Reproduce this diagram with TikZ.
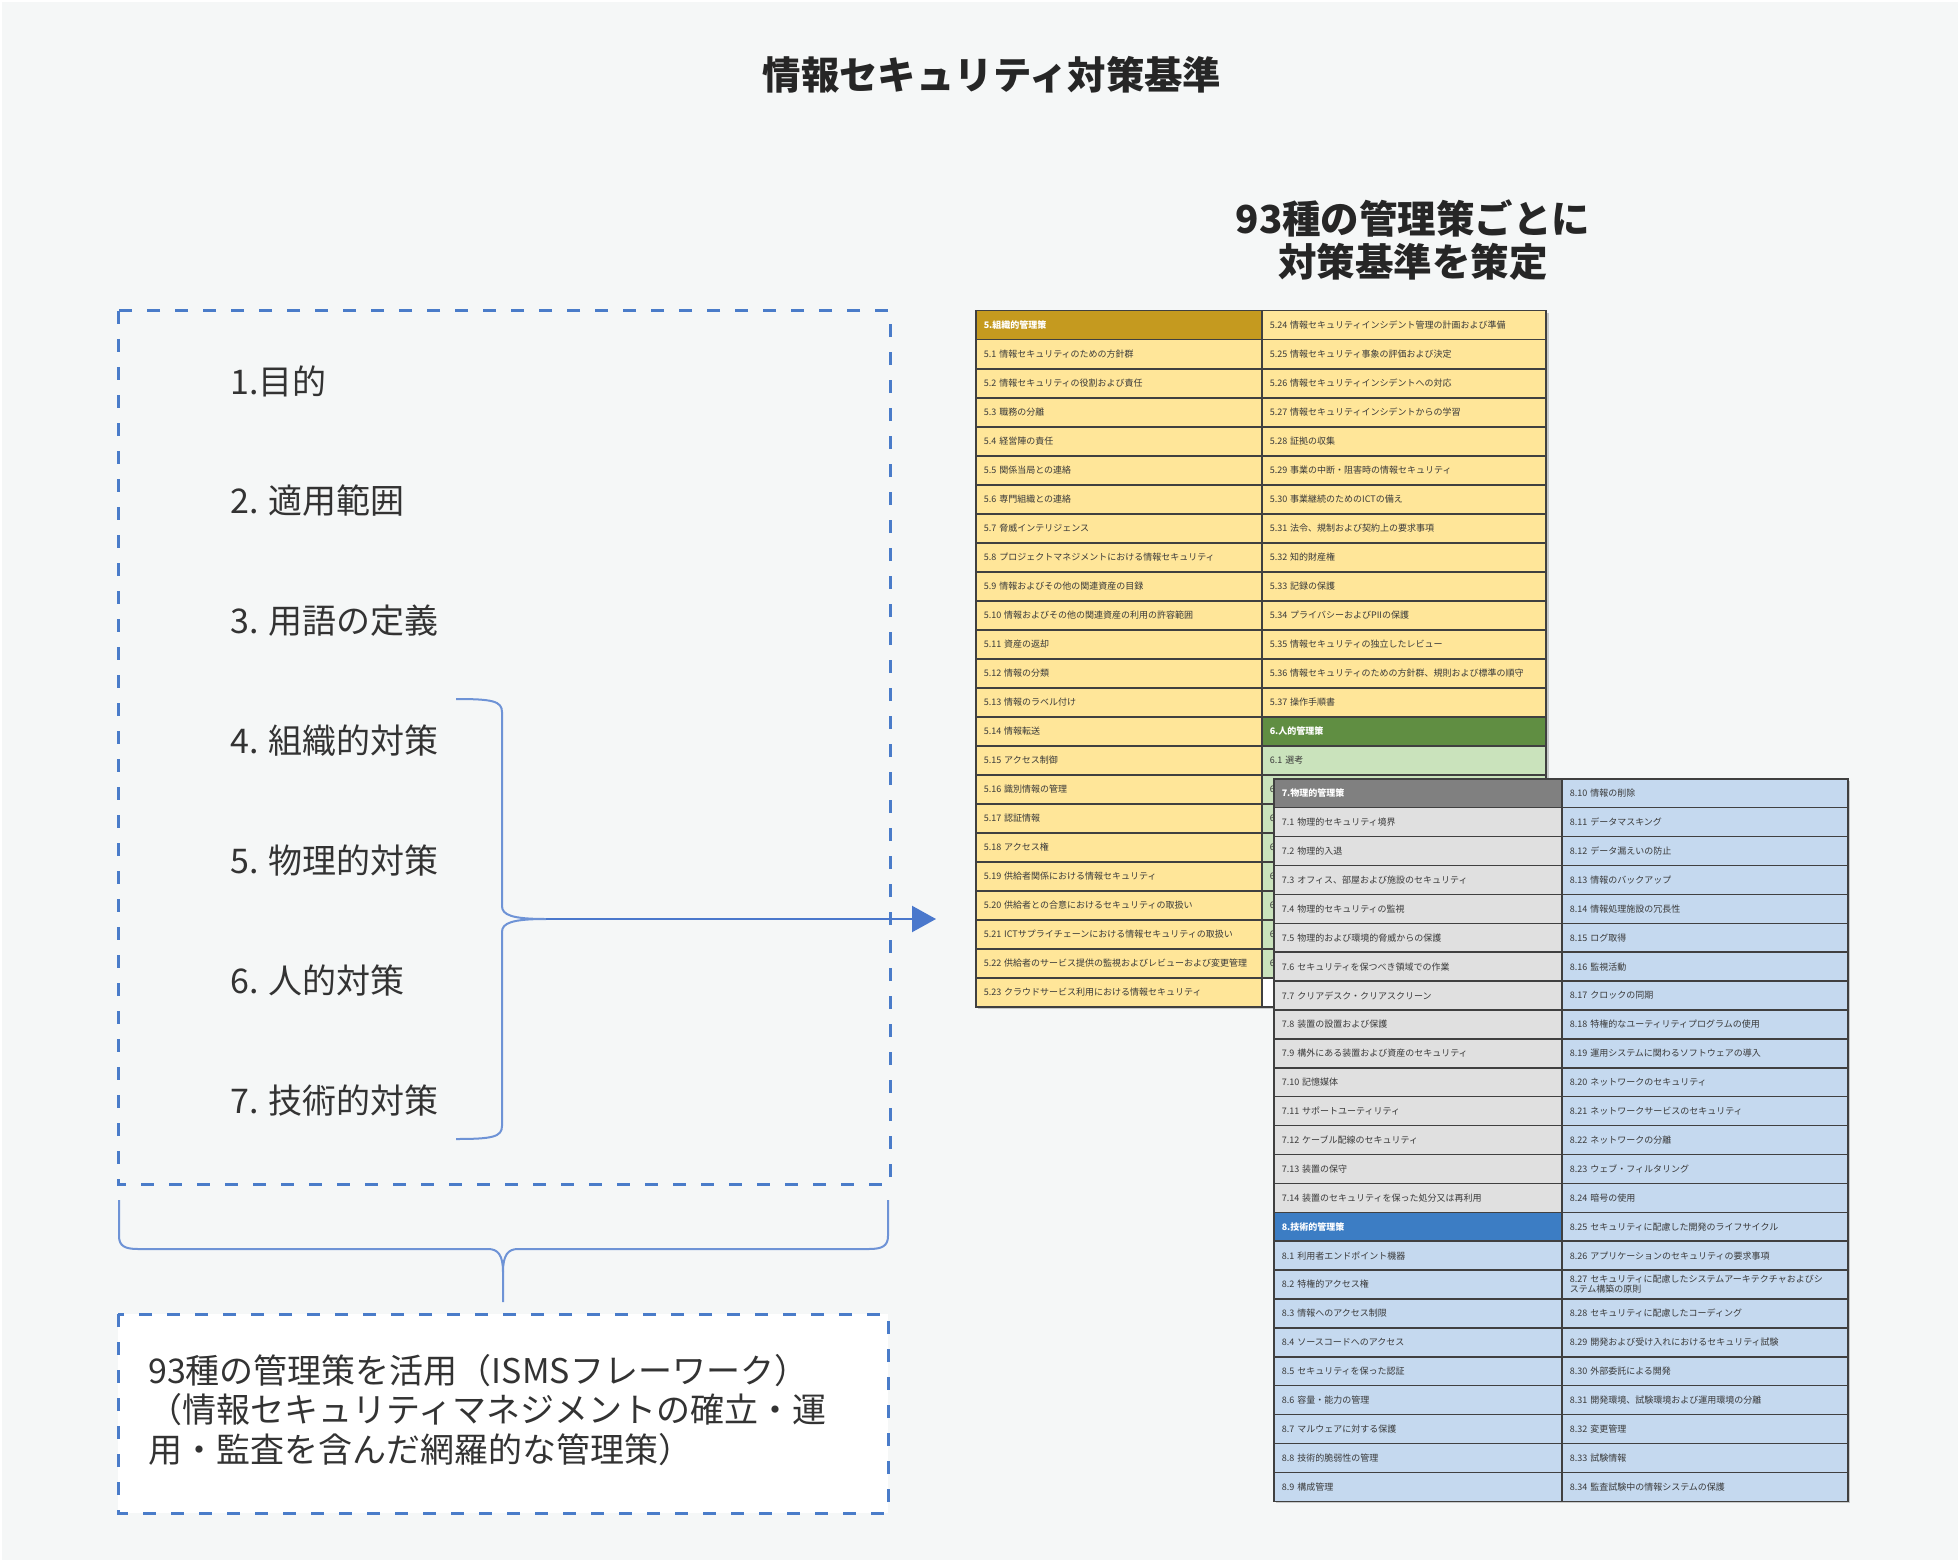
\documentclass[tikz,border=0pt]{standalone}
\usepackage{fontspec}
\setmainfont{Noto Sans CJK JP}
\usetikzlibrary{arrows.meta}
\definecolor{bgc}{HTML}{F5F7F7}
\definecolor{dashblue}{HTML}{4A7CC9}
\definecolor{bracec}{HTML}{6E93D6}
\definecolor{arrowc}{HTML}{4A78CC}
\definecolor{textdark}{HTML}{333333}
\definecolor{gridc}{HTML}{404040}
\definecolor{ctext}{HTML}{3A3A3A}
\definecolor{goldh}{HTML}{C59A1F}
\definecolor{yel}{HTML}{FFE699}
\definecolor{greenh}{HTML}{608E42}
\definecolor{grn}{HTML}{CAE3BC}
\definecolor{grayh}{HTML}{808080}
\definecolor{gry}{HTML}{E0E0E0}
\definecolor{blueh}{HTML}{3C7DC4}
\definecolor{blu}{HTML}{C5D9EF}
\definecolor{wht}{HTML}{FFFFFF}
\begin{document}
\begin{tikzpicture}[x=1pt,y=-1pt,
  dashbox/.style={draw=dashblue, line width=3pt, dash pattern=on 13pt off 15pt},
  item/.style={anchor=west, inner sep=0pt, font=\fontsize{34}{40}\selectfont, text=textdark},
  tcell/.style={draw=gridc, line width=1.5pt, anchor=north west, inner xsep=8pt, inner ysep=0pt,
    align=left, font=\fontsize{9}{10}\selectfont},
  bracel/.style={draw=bracec, line width=2pt, line join=round},
  shadowbox/.style={fill=black, fill opacity=0.18, draw=none}
]
\useasboundingbox (0,0) rectangle (1960,1562);
\fill[white] (0,0) rectangle (1960,1562);
\fill[bgc] (2,2) rectangle (1958,1560);

% titles
\node[font=\fontsize{38.4}{40}\selectfont\bfseries, text=black!85] (title) at (992,75) {情報セキュリティ対策基準};
\node[font=\fontsize{38.5}{43}\selectfont\bfseries, align=center, text=black!85] (sub) at (1413,240) {93種の管理策ごとに\\対策基準を策定};

% left dashed box with items
\draw[dashbox] (118,311) rectangle (890,1184);
\node[item] (i1) at (230,381) {1.目的};
\node[item] (i2) at (230,501) {2. 適用範囲};
\node[item] (i3) at (230,621) {3. 用語の定義};
\node[item] (i4) at (230,741) {4. 組織的対策};
\node[item] (i5) at (230,861) {5. 物理的対策};
\node[item] (i6) at (230,981) {6. 人的対策};
\node[item] (i7) at (230,1101) {7. 技術的対策};

% right brace and arrow
\coordinate (rbtop) at (456,699);
\coordinate (rbbot) at (456,1139);
\coordinate (rbtip) at (546,919);
\coordinate (arrowend) at (936,919);
\draw[bracel] (rbtop) .. controls (492,699) and (502,701) .. (502,712) -- (502,906)
  .. controls (502,915) and (512,919) .. (rbtip)
  .. controls (512,919) and (502,923) .. (502,932) -- (502,1126)
  .. controls (502,1137) and (492,1139) .. (rbbot);
\draw[draw=arrowc, line width=2.2pt, -{Triangle[length=24pt,width=26pt]}] (rbtip) -- (arrowend);

% bottom brace
\coordinate (bbl) at (119,1200);
\coordinate (bbr) at (888,1200);
\coordinate (bbtip) at (503,1302);
\draw[bracel] (bbl) -- (119,1236) .. controls (119,1246) and (125,1249) .. (138,1249) -- (488,1249)
  .. controls (498,1249) and (503,1255) .. (503,1272) -- (bbtip);
\draw[bracel] (bbr) -- (888,1236) .. controls (888,1246) and (882,1249) .. (869,1249) -- (518,1249)
  .. controls (508,1249) and (503,1255) .. (503,1272);

% bottom box
\draw[dashbox, fill=white] (118,1314) rectangle (888,1513);
\node[anchor=west, inner sep=0pt, align=left, font=\fontsize{34}{39.5}\selectfont, text=textdark] (isms) at (148,1410)
  {93種の管理策を活用（ISMSフレーワーク）\\（情報セキュリティマネジメントの確立・運\\用・監査を含んだ網羅的な管理策）};

% ---------- table 1 ----------
\fill[shadowbox] (978,313) rectangle (1549,1009);
\foreach \f/\c/\t [count=\i from 0] in {
  goldh/white/{\bfseries 5.組織的管理策},
  yel/ctext/{5.1 情報セキュリティのための方針群},
  yel/ctext/{5.2 情報セキュリティの役割および責任},
  yel/ctext/{5.3 職務の分離},
  yel/ctext/{5.4 経営陣の責任},
  yel/ctext/{5.5 関係当局との連絡},
  yel/ctext/{5.6 専門組織との連絡},
  yel/ctext/{5.7 脅威インテリジェンス},
  yel/ctext/{5.8 プロジェクトマネジメントにおける情報セキュリティ},
  yel/ctext/{5.9 情報およびその他の関連資産の目録},
  yel/ctext/{5.10 情報およびその他の関連資産の利用の許容範囲},
  yel/ctext/{5.11 資産の返却},
  yel/ctext/{5.12 情報の分類},
  yel/ctext/{5.13 情報のラベル付け},
  yel/ctext/{5.14 情報転送},
  yel/ctext/{5.15 アクセス制御},
  yel/ctext/{5.16 識別情報の管理},
  yel/ctext/{5.17 認証情報},
  yel/ctext/{5.18 アクセス権},
  yel/ctext/{5.19 供給者関係における情報セキュリティ},
  yel/ctext/{5.20 供給者との合意におけるセキュリティの取扱い},
  yel/ctext/{5.21 ICTサプライチェーンにおける情報セキュリティの取扱い},
  yel/ctext/{5.22 供給者のサービス提供の監視およびレビューおよび変更管理},
  yel/ctext/{5.23 クラウドサービス利用における情報セキュリティ}}
  \node[tcell, fill=\f, text=\c, text width=270pt, minimum width=286pt, minimum height=29pt] (ta\i) at (975,310+29*\i) {\t};
\foreach \f/\c/\t [count=\i from 0] in {
  yel/ctext/{5.24 情報セキュリティインシデント管理の計画および準備},
  yel/ctext/{5.25 情報セキュリティ事象の評価および決定},
  yel/ctext/{5.26 情報セキュリティインシデントへの対応},
  yel/ctext/{5.27 情報セキュリティインシデントからの学習},
  yel/ctext/{5.28 証拠の収集},
  yel/ctext/{5.29 事業の中断・阻害時の情報セキュリティ},
  yel/ctext/{5.30 事業継続のためのICTの備え},
  yel/ctext/{5.31 法令、規制および契約上の要求事項},
  yel/ctext/{5.32 知的財産権},
  yel/ctext/{5.33 記録の保護},
  yel/ctext/{5.34 プライバシーおよびPIIの保護},
  yel/ctext/{5.35 情報セキュリティの独立したレビュー},
  yel/ctext/{5.36 情報セキュリティのための方針群、規則および標準の順守},
  yel/ctext/{5.37 操作手順書},
  greenh/white/{\bfseries 6.人的管理策},
  grn/ctext/{6.1 選考},
  grn/ctext/{6},
  grn/ctext/{6},
  grn/ctext/{6},
  grn/ctext/{6},
  grn/ctext/{6},
  grn/ctext/{6},
  grn/ctext/{6},
  wht/ctext/{}}
  \node[tcell, fill=\f, text=\c, text width=268pt, minimum width=284pt, minimum height=29pt] (tb\i) at (1261,310+29*\i) {\t};

% ---------- table 2 ----------
\fill[shadowbox] (1276,781) rectangle (1850,1503);
\foreach \f/\c/\t [count=\i from 0] in {
  grayh/white/{\bfseries 7.物理的管理策},
  gry/ctext/{7.1 物理的セキュリティ境界},
  gry/ctext/{7.2 物理的入退},
  gry/ctext/{7.3 オフィス、部屋および施設のセキュリティ},
  gry/ctext/{7.4 物理的セキュリティの監視},
  gry/ctext/{7.5 物理的および環境的脅威からの保護},
  gry/ctext/{7.6 セキュリティを保つべき領域での作業},
  gry/ctext/{7.7 クリアデスク・クリアスクリーン},
  gry/ctext/{7.8 装置の設置および保護},
  gry/ctext/{7.9 構外にある装置および資産のセキュリティ},
  gry/ctext/{7.10 記憶媒体},
  gry/ctext/{7.11 サポートユーティリティ},
  gry/ctext/{7.12 ケーブル配線のセキュリティ},
  gry/ctext/{7.13 装置の保守},
  gry/ctext/{7.14 装置のセキュリティを保った処分又は再利用},
  blueh/white/{\bfseries 8.技術的管理策},
  blu/ctext/{8.1 利用者エンドポイント機器},
  blu/ctext/{8.2 特権的アクセス権},
  blu/ctext/{8.3 情報へのアクセス制限},
  blu/ctext/{8.4 ソースコードへのアクセス},
  blu/ctext/{8.5 セキュリティを保った認証},
  blu/ctext/{8.6 容量・能力の管理},
  blu/ctext/{8.7 マルウェアに対する保護},
  blu/ctext/{8.8 技術的脆弱性の管理},
  blu/ctext/{8.9 構成管理}}
  \node[tcell, fill=\f, text=\c, text width=272pt, minimum width=288pt, minimum height=28.9pt] (tc\i) at (1273,778+28.9*\i) {\t};
\foreach \f/\c/\t [count=\i from 0] in {
  blu/ctext/{8.10 情報の削除},
  blu/ctext/{8.11 データマスキング},
  blu/ctext/{8.12 データ漏えいの防止},
  blu/ctext/{8.13 情報のバックアップ},
  blu/ctext/{8.14 情報処理施設の冗長性},
  blu/ctext/{8.15 ログ取得},
  blu/ctext/{8.16 監視活動},
  blu/ctext/{8.17 クロックの同期},
  blu/ctext/{8.18 特権的なユーティリティプログラムの使用},
  blu/ctext/{8.19 運用システムに関わるソフトウェアの導入},
  blu/ctext/{8.20 ネットワークのセキュリティ},
  blu/ctext/{8.21 ネットワークサービスのセキュリティ},
  blu/ctext/{8.22 ネットワークの分離},
  blu/ctext/{8.23 ウェブ・フィルタリング},
  blu/ctext/{8.24 暗号の使用},
  blu/ctext/{8.25 セキュリティに配慮した開発のライフサイクル},
  blu/ctext/{8.26 アプリケーションのセキュリティの要求事項},
  blu/ctext/{8.27 セキュリティに配慮したシステムアーキテクチャおよびシ\\ステム構築の原則},
  blu/ctext/{8.28 セキュリティに配慮したコーディング},
  blu/ctext/{8.29 開発および受け入れにおけるセキュリティ試験},
  blu/ctext/{8.30 外部委託による開発},
  blu/ctext/{8.31 開発環境、試験環境および運用環境の分離},
  blu/ctext/{8.32 変更管理},
  blu/ctext/{8.33 試験情報},
  blu/ctext/{8.34 監査試験中の情報システムの保護}}
  \node[tcell, fill=\f, text=\c, text width=270pt, minimum width=286pt, minimum height=28.9pt] (td\i) at (1561,778+28.9*\i) {\t};
\end{tikzpicture}
\end{document}
